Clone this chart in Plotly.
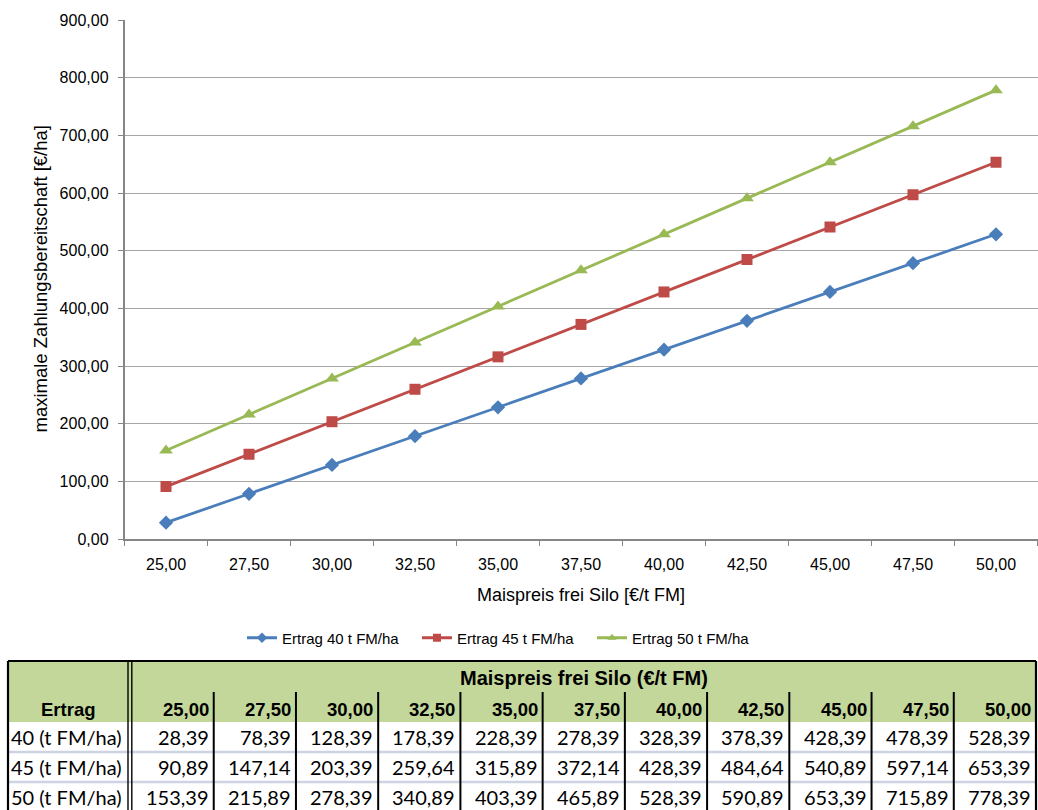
import plotly.graph_objects as go

W, H = 1038, 810

# Maispreis frei Silo [€/t FM]
preise = [25.0, 27.5, 30.0, 32.5, 35.0, 37.5, 40.0, 42.5, 45.0, 47.5, 50.0]
# maximale Zahlungsbereitschaft [€/ha] je Ertragsstufe
ertrag_40 = [28.39, 78.39, 128.39, 178.39, 228.39, 278.39, 328.39, 378.39, 428.39, 478.39, 528.39]
ertrag_45 = [90.89, 147.14, 203.39, 259.64, 315.89, 372.14, 428.39, 484.64, 540.89, 597.14, 653.39]
ertrag_50 = [153.39, 215.89, 278.39, 340.89, 403.39, 465.89, 528.39, 590.89, 653.39, 715.89, 778.39]
serien_namen = ["Ertrag 40 t FM/ha", "Ertrag 45 t FM/ha", "Ertrag 50 t FM/ha"]
zeilen_namen = ["40 (t FM/ha)", "45 (t FM/ha)", "50 (t FM/ha)"]
y_ticks = [0, 100, 200, 300, 400, 500, 600, 700, 800, 900]


def de(v):
    return f"{v:.2f}".replace(".", ",")


def px(x):
    return x / W


def py(y):
    return 1 - y / H


ARIAL = "Liberation Sans, Arial, sans-serif"
CALIBRI = "Lato, Carlito, Calibri, sans-serif"

kategorien = [de(p) for p in preise]
serien = [ertrag_40, ertrag_45, ertrag_50]
farben = ["#4A7EBB", "#BE4B48", "#98B954"]
symbole = ["diamond", "square", "triangle-up"]
groessen = [11, 11, 12]

fig = go.Figure()
for name, werte, farbe, sym, gr in zip(serien_namen, serien, farben, symbole, groessen):
    fig.add_trace(go.Scatter(
        x=kategorien, y=werte, name=name, mode="lines+markers",
        legendgroup=name, showlegend=False,
        line=dict(color=farbe, width=2.8),
        marker=dict(symbol=sym, size=gr, color=farbe, line=dict(width=0)),
    ))
# legend entries with the small Excel-style marker
for name, farbe, sym in zip(serien_namen, farben, symbole):
    fig.add_trace(go.Scatter(
        x=[None], y=[None], name=name, mode="lines+markers",
        legendgroup=name, showlegend=True,
        line=dict(color=farbe, width=2.8),
        marker=dict(symbol=sym, size=8, color=farbe, line=dict(width=0)),
    ))

# plot area geometry in pixels
PLOT_L, PLOT_R, PLOT_T, PLOT_B = 124.5, 1037.5, 20, 539

fig.update_layout(
    width=W, height=H,
    margin=dict(l=0, r=0, t=0, b=0),
    paper_bgcolor="white", plot_bgcolor="white",
    separators=",.",
    font=dict(family=ARIAL, size=16, color="#000000"),
    showlegend=True,
    legend=dict(
        orientation="h", x=px(242), xanchor="left", y=py(638), yanchor="middle",
        font=dict(family=ARIAL, size=15, color="#000000"),
        itemwidth=30, entrywidth=130, entrywidthmode="pixels",
        tracegroupgap=0, bgcolor="rgba(0,0,0,0)",
    ),
    xaxis=dict(
        type="category", domain=[px(PLOT_L), px(PLOT_R)], range=[-0.5, len(preise) - 0.5],
        showline=True, linecolor="#868686", linewidth=1.5,
        ticks="outside", tickson="boundaries", ticklen=5, tickcolor="#868686", tickwidth=1.2,
        showgrid=False, zeroline=False, automargin=False,
        tickfont=dict(family=ARIAL, size=16, color="#000000"),
        ticklabelstandoff=10,
    ),
    yaxis=dict(
        domain=[py(PLOT_B), py(PLOT_T)], range=[0, 900],
        tickvals=y_ticks, tickformat=".2f",
        showline=True, linecolor="#868686", linewidth=1.5,
        ticks="outside", ticklen=5, tickcolor="#868686", tickwidth=1.2,
        showgrid=True, gridcolor="#A6A6A6", gridwidth=1.2,
        zeroline=False, automargin=False,
        tickfont=dict(family=ARIAL, size=16, color="#000000"),
        ticklabelstandoff=6,
    ),
)

annotations = [
    dict(text="Maispreis frei Silo [€/t FM]", x=px((PLOT_L + PLOT_R) / 2), y=py(595),
         xref="paper", yref="paper", showarrow=False, xanchor="center", yanchor="middle",
         font=dict(family=ARIAL, size=18, color="#000000")),
    dict(text="maximale Zahlungsbereitschaft [€/ha]", x=px(40), y=py((PLOT_T + PLOT_B) / 2),
         xref="paper", yref="paper", showarrow=False, xanchor="center", yanchor="middle",
         textangle=-90, font=dict(family=ARIAL, size=18.5, color="#000000")),
]

# ---- Tabelle unter dem Diagramm ----
T_L, T_R = 8, 1036
T_TOP, HDR2_TOP, BODY_TOP, ROW_H = 661, 692, 722, 30
FIRST_R = 128
COL0 = 131.5
n = len(preise)
col_w = (T_R - COL0) / n
col_edges = [COL0 + i * col_w for i in range(n + 1)]
T_BOT = BODY_TOP + ROW_H * len(zeilen_namen) + 5

shapes = []
# header fill
shapes.append(dict(type="rect", xref="paper", yref="paper",
                   x0=px(T_L), x1=px(T_R), y0=py(BODY_TOP), y1=py(T_TOP),
                   fillcolor="#C4D79B", line=dict(width=0), layer="below"))
# row separators
for r in range(1, len(zeilen_namen)):
    yy = BODY_TOP + r * ROW_H
    shapes.append(dict(type="line", xref="paper", yref="paper",
                       x0=px(T_L), x1=px(T_R), y0=py(yy), y1=py(yy),
                       line=dict(color="#CDD3E2", width=2.5)))
# column lines in header row 2 and body
for xe in col_edges[1:-1]:
    shapes.append(dict(type="line", xref="paper", yref="paper",
                       x0=px(xe), x1=px(xe), y0=py(HDR2_TOP), y1=py(T_BOT),
                       line=dict(color="#000000", width=2)))
# double line after first column
for xe in (FIRST_R, FIRST_R + 3.8):
    shapes.append(dict(type="line", xref="paper", yref="paper",
                       x0=px(xe), x1=px(xe), y0=py(T_TOP), y1=py(T_BOT),
                       line=dict(color="#000000", width=1.4)))
# outer border
shapes.append(dict(type="line", xref="paper", yref="paper",
                   x0=px(T_L), x1=px(T_R), y0=py(T_TOP), y1=py(T_TOP),
                   line=dict(color="#000000", width=2.2)))
for xe in (T_L, T_R):
    shapes.append(dict(type="line", xref="paper", yref="paper",
                       x0=px(xe), x1=px(xe), y0=py(T_TOP), y1=py(T_BOT),
                       line=dict(color="#000000", width=2.2)))


def txt(s, x, y, anchor, font, bold=False):
    return dict(text=f"<b>{s}</b>" if bold else s, x=px(x), y=py(y),
                xref="paper", yref="paper", showarrow=False,
                xanchor=anchor, yanchor="middle", font=font)


title_font = dict(family=ARIAL, size=20, color="#000000")
hdr_font = dict(family=ARIAL, size=18.5, color="#000000")
cell_font = dict(family=CALIBRI, size=20, color="#000000")

annotations.append(txt("Maispreis frei Silo (€/t FM)", (COL0 + T_R) / 2, (T_TOP + HDR2_TOP) / 2 + 1,
                       "center", title_font, bold=True))
annotations.append(txt("Ertrag", (T_L + FIRST_R) / 2, (HDR2_TOP + BODY_TOP) / 2 + 2,
                       "center", hdr_font, bold=True))
for i, p in enumerate(preise):
    annotations.append(txt(de(p), col_edges[i + 1] - 3, (HDR2_TOP + BODY_TOP) / 2 + 2,
                           "right", hdr_font, bold=True))
for r, (label, werte) in enumerate(zip(zeilen_namen, serien)):
    yc = BODY_TOP + r * ROW_H + ROW_H / 2
    annotations.append(txt(label, T_L + 1, yc, "left", cell_font))
    for i, v in enumerate(werte):
        annotations.append(txt(de(v), col_edges[i + 1] - 3, yc, "right", cell_font))

fig.update_layout(shapes=shapes, annotations=annotations)

fig.write_html("out.html")
